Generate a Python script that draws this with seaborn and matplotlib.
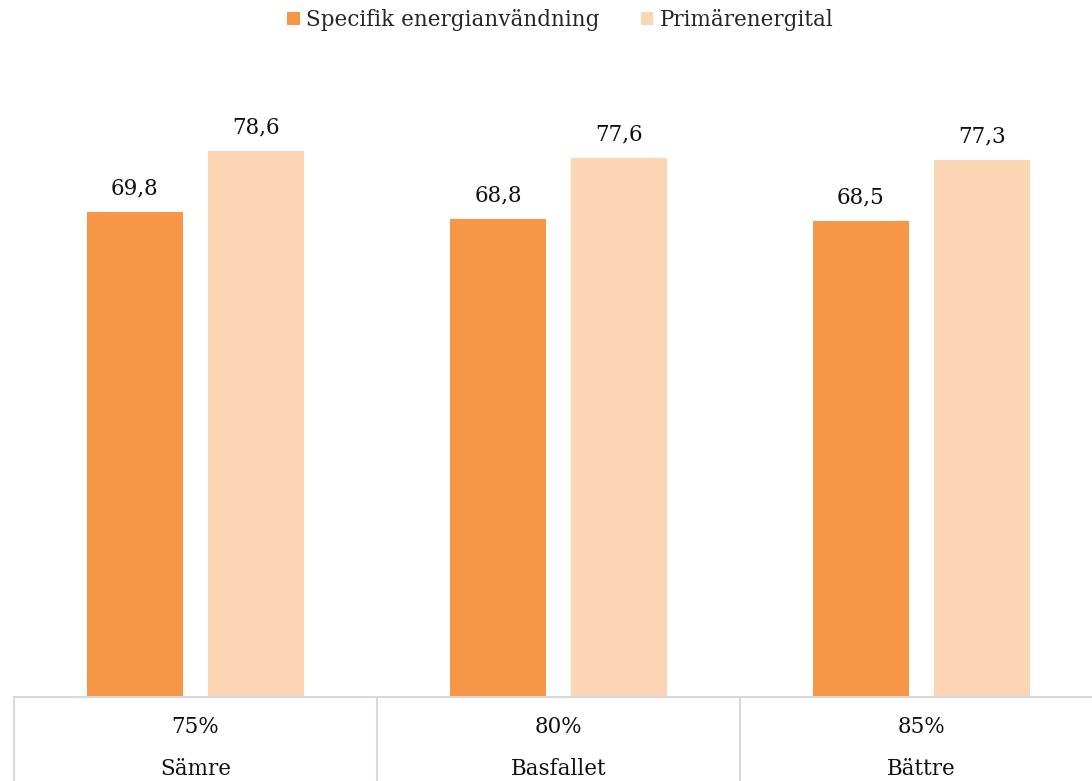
import matplotlib
matplotlib.use("Agg")
import matplotlib.pyplot as plt
import matplotlib.transforms as mtransforms
import seaborn as sns
import pandas as pd

# Data
scenarios = ["75%", "80%", "85%"]
scenario_names = ["Sämre", "Basfallet", "Bättre"]
specifik = [69.8, 68.8, 68.5]
primar = [78.6, 77.6, 77.3]
series_names = ["Specifik energianvändning", "Primärenergital"]

colors = ["#F79646", "#FCD5B5"]
grid_gray = "#D9D9D9"

sns.set_theme(style="white")
plt.rcParams["font.family"] = ["DejaVu Serif"]

df = pd.DataFrame({
    "scenario": scenarios * 2,
    "serie": [series_names[0]] * 3 + [series_names[1]] * 3,
    "value": specifik + primar,
})

fig = plt.figure(figsize=(10.92, 7.81), dpi=100)
W, H = 1092, 781
left_px, cat_px = 14, 363
base_px, top_px = 697, 37
ax = fig.add_axes([left_px / W, (H - base_px) / H, 3 * cat_px / W, (base_px - top_px) / H])

sns.barplot(data=df, x="scenario", y="value", hue="serie", palette=colors,
            width=0.667, gap=0.21, ax=ax, saturation=1, errorbar=None,
            linewidth=0)

ax.set_xlim(-0.5, 2.5)
ax.set_ylim(0, 95)
ax.set_xlabel("")
ax.set_ylabel("")
ax.set_yticks([])

for cont in ax.containers:
    vals = cont.datavalues
    ax.bar_label(cont, labels=[f"{v:.1f}".replace(".", ",") for v in vals],
                 padding=9, fontsize=15.5, color="#111111")

# Category table under the bars
ax.set_xticks(range(len(scenarios)))
ax.set_xticklabels([f"{p}\n{n}" for p, n in zip(scenarios, scenario_names)],
                   fontsize=15.5, color="#111111", linespacing=2.15)
ax.tick_params(axis="x", length=0, pad=14)

for s in ["top", "right", "left"]:
    ax.spines[s].set_visible(False)
ax.spines["bottom"].set_color(grid_gray)
ax.spines["bottom"].set_linewidth(1.5)

trans = mtransforms.blended_transform_factory(ax.transData, ax.transAxes)
for xb in [-0.5, 0.5, 1.5, 2.5]:
    ax.plot([xb, xb], [0, -0.2], transform=trans, color=grid_gray, lw=1.5,
            clip_on=False, solid_capstyle="butt")

sns.move_legend(ax, "center", bbox_to_anchor=(0.513 * W / (3 * cat_px) - left_px / (3 * cat_px), 1 + (top_px - 20) / (base_px - top_px)),
                ncol=2, frameon=False, title=None, fontsize=15.5,
                handlelength=0.6, handleheight=0.6, handletextpad=0.3,
                columnspacing=1.9)

fig.savefig("out.png", dpi=100)
